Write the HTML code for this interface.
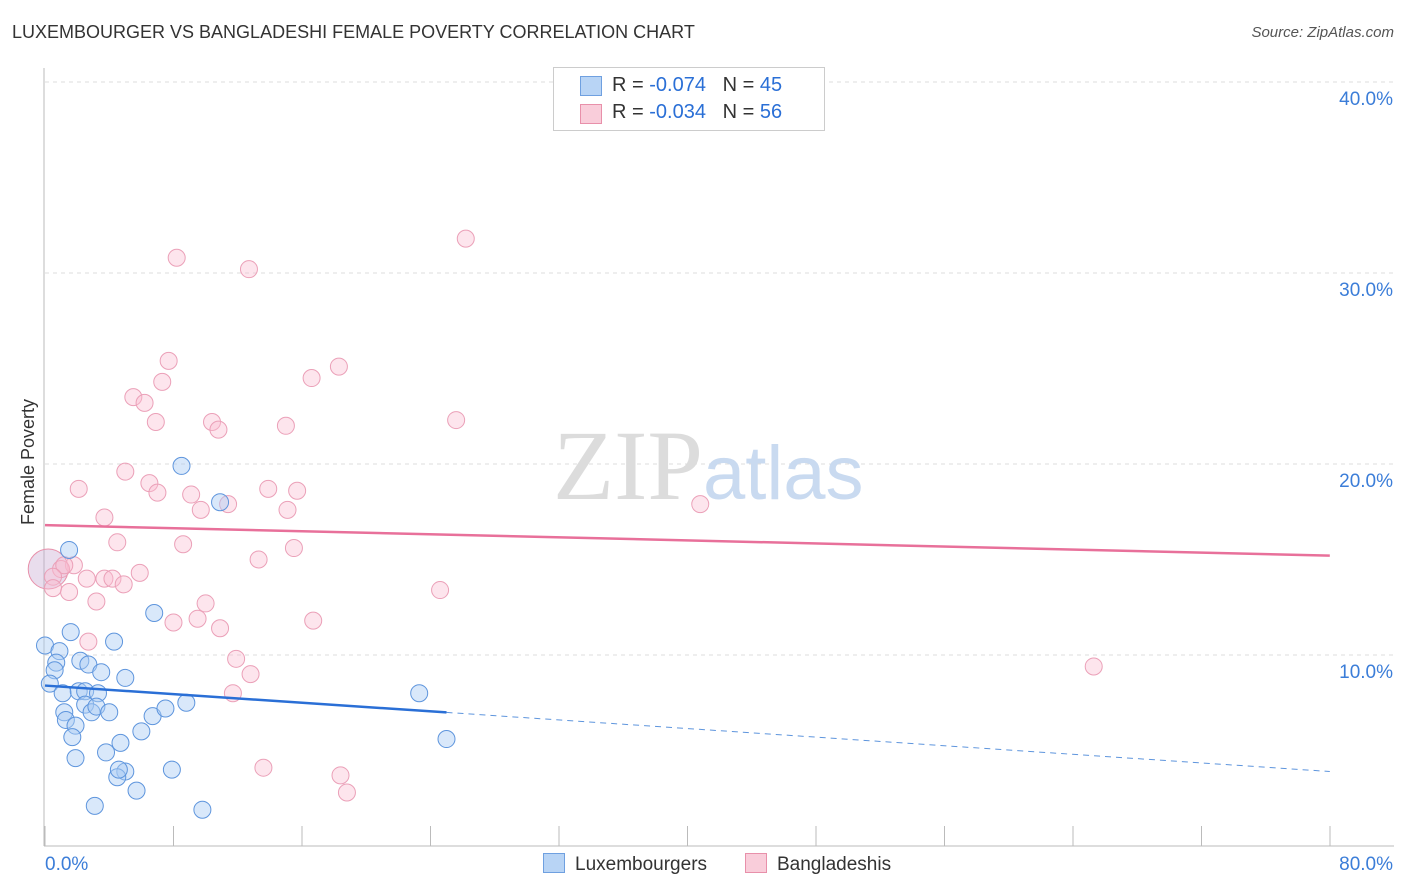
<!DOCTYPE html>
<html><head><meta charset="utf-8"><style>
body{margin:0;background:#fff;font-family:"Liberation Sans",sans-serif}
#wrap{position:relative;width:1406px;height:892px;overflow:hidden}
.t{position:absolute;white-space:nowrap}
</style></head><body>
<div id="wrap">
<div class="t" style="left:12px;top:22px;font-size:18px;color:#333">LUXEMBOURGER VS BANGLADESHI FEMALE POVERTY CORRELATION CHART</div>
<div class="t" style="right:12px;top:24px;font-size:15px;color:#555;font-style:italic">Source: ZipAtlas.com</div>
<div class="t" style="left:5px;top:455px;font-size:18px;color:#333;transform:rotate(-90deg);transform-origin:left top;left:18px;top:525px">Female Poverty</div>
<svg id="svg" width="1406" height="892" style="position:absolute;left:0;top:0"></svg>
<div class="t" style="left:553px;top:67px;width:270px;height:62px;border:1px solid #ccc;background:#fff">
 <div style="position:absolute;left:26px;top:8px;width:20px;height:18px;background:#b8d4f5;border:1px solid #6fa0e0"></div>
 <div style="position:absolute;left:58px;top:6px;font-size:20px;color:#333">R = <span style="color:#2a6fd6">-0.074</span>&nbsp;&nbsp;&nbsp;N = <span style="color:#2a6fd6">45</span></div>
 <div style="position:absolute;left:26px;top:36px;width:20px;height:18px;background:#f9cdda;border:1px solid #e890aa"></div>
 <div style="position:absolute;left:58px;top:33px;font-size:20px;color:#333">R = <span style="color:#2a6fd6">-0.034</span>&nbsp;&nbsp;&nbsp;N = <span style="color:#2a6fd6">56</span></div>
</div>
<div class="t" style="left:553px;top:408px;font-size:100px;color:#dcdcdc;font-family:'Liberation Serif',serif">ZIP<span style="color:#c9daf0;font-family:'Liberation Sans',sans-serif;font-size:76px">atlas</span></div>
<div class="t" style="left:543px;top:853px;font-size:19px;color:#333"><span style="display:inline-block;width:20px;height:18px;background:#b8d4f5;border:1px solid #6fa0e0;vertical-align:-3px;margin-right:10px"></span>Luxembourgers</div>
<div class="t" style="left:745px;top:853px;font-size:19px;color:#333"><span style="display:inline-block;width:20px;height:18px;background:#f9cdda;border:1px solid #e890aa;vertical-align:-3px;margin-right:10px"></span>Bangladeshis</div>
</div>
<script>
const yTicks=[10,20,30,40];
const xTickLabels=["0.0%","80.0%"];
const luxX=[1.5,0,0.9,0.7,1.6,0.6,0.3,1.1,2.2,2.7,3.5,4.3,5.0,2.1,2.5,3.3,2.5,1.2,1.3,1.9,2.9,3.2,4.0,1.7,1.9,3.8,4.7,6.0,6.7,7.5,8.8,6.8,8.5,10.9,23.3,25.0,5.0,4.5,4.6,5.7,7.9,3.1,9.8];
const luxY=[15.5,10.5,10.2,9.6,11.2,9.2,8.5,8.0,9.7,9.5,9.1,10.7,8.8,8.1,8.1,8.0,7.4,7.0,6.6,6.3,7.0,7.3,7.0,5.7,4.6,4.9,5.4,6.0,6.8,7.2,7.5,12.2,19.9,18.0,8.0,5.6,3.9,3.6,4.0,2.9,4.0,2.1,1.9];
const bgX=[26.2,8.2,12.7,7.7,18.3,16.6,7.3,5.5,6.2,6.9,10.4,10.8,15.0,25.6,5.0,6.5,2.1,9.1,7.0,13.9,15.7,11.4,9.7,15.1,40.8,3.7,4.5,8.6,15.5,13.3,1.8,1.0,1.2,0.5,2.6,3.7,4.2,4.9,5.9,0.5,1.5,3.2,10.0,24.6,8.0,9.5,10.9,16.7,2.7,11.9,12.8,11.7,65.3,13.6,18.4,18.8];
const bgY=[31.8,30.8,30.2,25.4,25.1,24.5,24.3,23.5,23.2,22.2,22.2,21.8,22.0,22.3,19.6,19.0,18.7,18.4,18.5,18.7,18.6,17.9,17.6,17.6,17.9,17.2,15.9,15.8,15.6,15.0,14.7,14.5,14.7,14.1,14.0,14.0,14.0,13.7,14.3,13.5,13.3,12.8,12.7,13.4,11.7,11.9,11.4,11.8,10.7,9.8,9.0,8.0,9.4,4.1,3.7,2.8];
const luxTrend=[8.4,3.9]; const bgTrend=[16.8,15.2];
const X=v=>45+v*16.06, Y=v=>846-v*19.1;
const s=document.getElementById('svg'),NS='http://www.w3.org/2000/svg';
function mk(t,a){const e=document.createElementNS(NS,t);for(const k in a)e.setAttribute(k,a[k]);s.appendChild(e);return e;}
let e=mk('line',{x1:44,y1:68,x2:44,y2:846,stroke:'#bbb'});

e=mk('line',{x1:44,y1:846,x2:1394,y2:846,stroke:'#bbb'});

for(let i=0;i<=10;i++){e=mk('line',{x1:45+i*128.5,y1:826,x2:45+i*128.5,y2:846,stroke:'#bbb'});
}
yTicks.forEach(v=>{e=mk('line',{x1:45,y1:Y(v),x2:1394,y2:Y(v),stroke:'#ddd','stroke-dasharray':'4,4'});

e=mk('text',{x:1393,y:Y(v)+23,'text-anchor':'end','font-size':19,fill:'#3b7dd8','font-family':'Liberation Sans'});e.textContent=v.toFixed(1)+'%';
});
e=mk('text',{x:45,y:870,'font-size':19,fill:'#3b7dd8','font-family':'Liberation Sans'});e.textContent=xTickLabels[0];

e=mk('text',{x:1393,y:870,'text-anchor':'end','font-size':19,fill:'#3b7dd8','font-family':'Liberation Sans'});e.textContent=xTickLabels[1];

e=mk('circle',{cx:X(0.2),cy:Y(14.5),r:20,fill:'rgba(200,170,210,0.4)',stroke:'#e890aa'});

bgX.forEach((x,i)=>{e=mk('circle',{cx:X(x),cy:Y(bgY[i]),r:8.5,fill:'rgba(249,190,210,0.4)',stroke:'#eba0b8','stroke-width':1});
});
luxX.forEach((x,i)=>{e=mk('circle',{cx:X(x),cy:Y(luxY[i]),r:8.5,fill:'rgba(170,205,245,0.45)',stroke:'#5e95dd','stroke-width':1});
});
const lx=v=>luxTrend[0]+(luxTrend[1]-luxTrend[0])*v/80;
e=mk('line',{x1:X(0),y1:Y(lx(0)),x2:X(25),y2:Y(lx(25)),stroke:'#2a6fd6','stroke-width':2.5});

e=mk('line',{x1:X(25),y1:Y(lx(25)),x2:X(80),y2:Y(lx(80)),stroke:'#5e95dd','stroke-width':1,'stroke-dasharray':'6,5'});

e=mk('line',{x1:X(0),y1:Y(bgTrend[0]),x2:X(80),y2:Y(bgTrend[1]),stroke:'#e8709a','stroke-width':2.5});

</script>
</body></html>
